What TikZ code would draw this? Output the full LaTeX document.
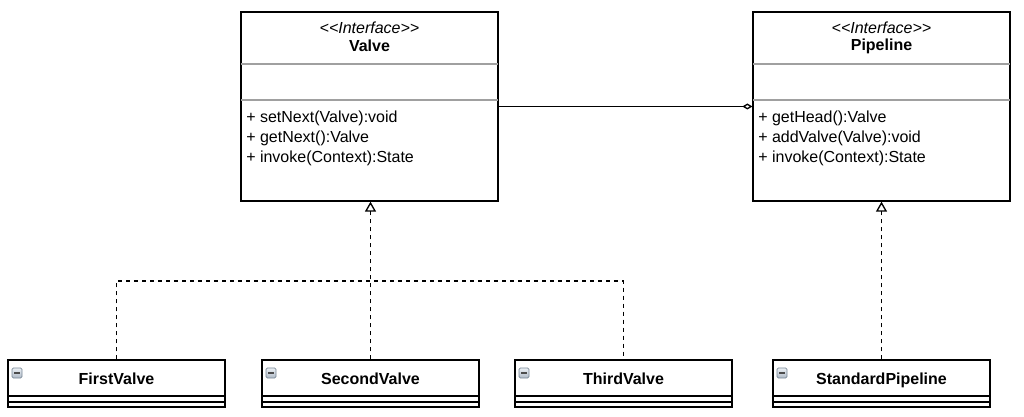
\documentclass[tikz,border=0pt,12pt]{standalone}
\usepackage{fontspec}
\setmainfont{Liberation Sans}
\usetikzlibrary{arrows.meta}

\definecolor{sepgray}{RGB}{160,160,160}
\definecolor{iconedge}{RGB}{120,135,150}
\definecolor{icontop}{RGB}{235,240,245}
\definecolor{iconbot}{RGB}{175,185,198}

\tikzset{
  iface/.style={draw, line width=1pt, minimum width=192.75pt, minimum height=141.75pt, inner sep=0pt},
  cls/.style={draw, line width=1pt, minimum width=162.75pt, minimum height=35.25pt, inner sep=0pt},
  sep/.style={draw=sepgray, line width=0.8pt},
  stereo/.style={inner sep=0pt, font=\itshape},
  iname/.style={inner sep=0pt, font=\bfseries},
  op/.style={anchor=base west, inner sep=0pt},
  cname/.style={anchor=base, inner sep=0pt, font=\bfseries},
  icon/.style={draw=iconedge, line width=0.5pt, top color=icontop, bottom color=iconbot, rounded corners=1pt, minimum size=7.5pt, inner sep=0pt,
    path picture={\draw[line width=1.3pt, black!70] ([xshift=1.6pt]path picture bounding box.west) -- ([xshift=-1.6pt]path picture bounding box.east);}},
  bus/.style={line width=1pt, dash pattern=on 3pt off 3pt},
  realize/.style={bus, -{Triangle[open, length=7.5pt, width=8.25pt, line width=1pt]}},
  aggr/.style={line width=1pt, -{Diamond[open, length=7.5pt, width=4.5pt, line width=1pt]}},
}

\begin{document}
\begin{tikzpicture}[x=0.75pt,y=0.75pt,yscale=-1,xscale=1]
\useasboundingbox (0,0) rectangle (1024,417);

%Interface: Valve
\node [iface] (valve) at (369.5,106.5) {};
\draw [sep] (241,64) -- (498,64);
\draw [sep] (241,100) -- (498,100);
\node [stereo] (valvest) at (369.5,28) {<\kern0pt<Interface>\kern0pt>};
\node [iname] (valvenm) at (369.5,46) {Valve};
\node [op] (valveop1) at (246,123) {+ setNext(Valve):void};
\node [op] (valveop2) at (246,142.5) {+ getNext():Valve};
\node [op] (valveop3) at (246,162) {+ invoke(Context):State};

%Interface: Pipeline
\node [iface] (pipe) at (881.5,106.5) {};
\draw [sep] (753,64) -- (1010,64);
\draw [sep] (753,100) -- (1010,100);
\node [stereo] (pipest) at (881.5,28) {<\kern0pt<Interface>\kern0pt>};
\node [iname] (pipenm) at (881.5,46) {Pipeline};
\node [op] (pipeop1) at (758,123) {+ getHead():Valve};
\node [op] (pipeop2) at (758,142.5) {+ addValve(Valve):void};
\node [op] (pipeop3) at (758,162) {+ invoke(Context):State};

%Class: FirstValve
\node [cls] (first) at (116.5,383.5) {};
\draw [line width=1.5pt] (8,396) -- (225,396);
\draw [line width=1pt] (8,402) -- (225,402);
\node [icon] (firsticon) at (17,373) {};
\node [cname] (firstnm) at (116.5,384) {FirstValve};

%Class: SecondValve
\node [cls] (second) at (370.5,383.5) {};
\draw [line width=1.5pt] (262,396) -- (479,396);
\draw [line width=1pt] (262,402) -- (479,402);
\node [icon] (secondicon) at (271,373) {};
\node [cname] (secondnm) at (370.5,384) {SecondValve};

%Class: ThirdValve
\node [cls] (third) at (623.5,383.5) {};
\draw [line width=1.5pt] (515,396) -- (732,396);
\draw [line width=1pt] (515,402) -- (732,402);
\node [icon] (thirdicon) at (524,373) {};
\node [cname] (thirdnm) at (623.5,384) {ThirdValve};

%Class: StandardPipeline
\node [cls] (std) at (881.5,383.5) {};
\draw [line width=1.5pt] (773,396) -- (990,396);
\draw [line width=1pt] (773,402) -- (990,402);
\node [icon] (stdicon) at (782,373) {};
\node [cname] (stdnm) at (881.5,384) {StandardPipeline};

%Connectors
\coordinate (busmid) at (370.5,281);
\draw [bus] (first.north) |- (busmid) -| (third.north);
\draw [realize] (second.north) -- (second.north |- valve.south);
\draw [realize] (std.north) -- (pipe.south);
\draw [aggr] (valve.east) -- (pipe.west);

\end{tikzpicture}
\end{document}
